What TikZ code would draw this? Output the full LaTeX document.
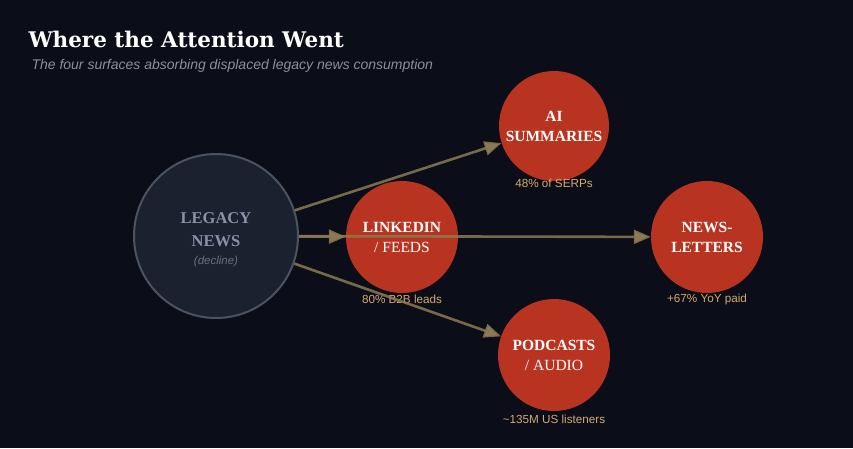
\documentclass[tikz,border=0pt]{standalone}
\usepackage{fontspec}
\setmainfont{Liberation Serif}
\setsansfont{Liberation Sans}
\newfontfamily\titlefont{DejaVu Serif}
\usetikzlibrary{arrows.meta}
\definecolor{bg}{HTML}{0B0E18}
\definecolor{hubred}{HTML}{B83420}
\definecolor{arr}{HTML}{8C7A52}
\definecolor{lab}{HTML}{D2A972}
\definecolor{legfill}{HTML}{1C2130}
\definecolor{legb}{HTML}{4C5262}
\definecolor{legt}{HTML}{8A92A8}
\definecolor{legs}{HTML}{6A7080}
\definecolor{subt}{HTML}{8A909C}
\begin{document}
\begin{tikzpicture}[x=1pt,y=-1pt,
  hub/.style={circle,fill=hubred,minimum size=112pt,inner sep=0pt,align=center,text=white,font=\bfseries\fontsize{15.5}{20}\selectfont},
  lbl/.style={text=lab,font=\sffamily\fontsize{11.7}{14}\selectfont},
  con/.style={draw=arr,line width=2.6pt,draw opacity=0.85,-{Triangle[length=17pt,width=14pt]}}]
\fill[bg] (0,0) rectangle (853,448);
\useasboundingbox (0,0) rectangle (853,448);
\node[anchor=west,text=white,font=\titlefont\bfseries\fontsize{21.5}{26}\selectfont] (title) at (25,39) {Where the Attention Went};
\node[anchor=west,text=subt,font=\sffamily\itshape\fontsize{14}{16}\selectfont] (sub) at (28,66) {The four surfaces absorbing displaced legacy news consumption};
\node[circle,fill=legfill,draw=legb,line width=2pt,minimum size=164pt,inner sep=0pt] (legacy) at (216,236) {};
\node[text=legt,align=center,font=\bfseries\fontsize{16.5}{23}\selectfont] (legname) at (216,230) {LEGACY\\NEWS};
\node[text=legs,font=\sffamily\itshape\fontsize{11.5}{13}\selectfont] (legsub) at (216,262) {(decline)};
\node[hub,minimum size=110pt] (ai) at (554,126) {AI\\SUMMARIES};
\node[hub] (li) at (402,237) {LINKEDIN\\{\mdseries / FEEDS}};
\node[hub] (nl) at (707,237) {NEWS-\\LETTERS};
\node[hub] (pc) at (554,355) {PODCASTS\\{\mdseries / AUDIO}};
\node[lbl] (ail) at (554,183) {48\% of SERPs};
\node[lbl] (lil) at (402,299) {80\% B2B leads};
\node[lbl] (nll) at (707,299) {+67\% YoY paid};
\node[lbl] (pcl) at (554,419) {\textasciitilde135M US listeners};
\draw[con] (legacy) -- (ai);
\draw[con] (legacy) -- (li);
\draw[con] (legacy) -- (nl);
\draw[con] (legacy) -- (pc);
\end{tikzpicture}
\end{document}
